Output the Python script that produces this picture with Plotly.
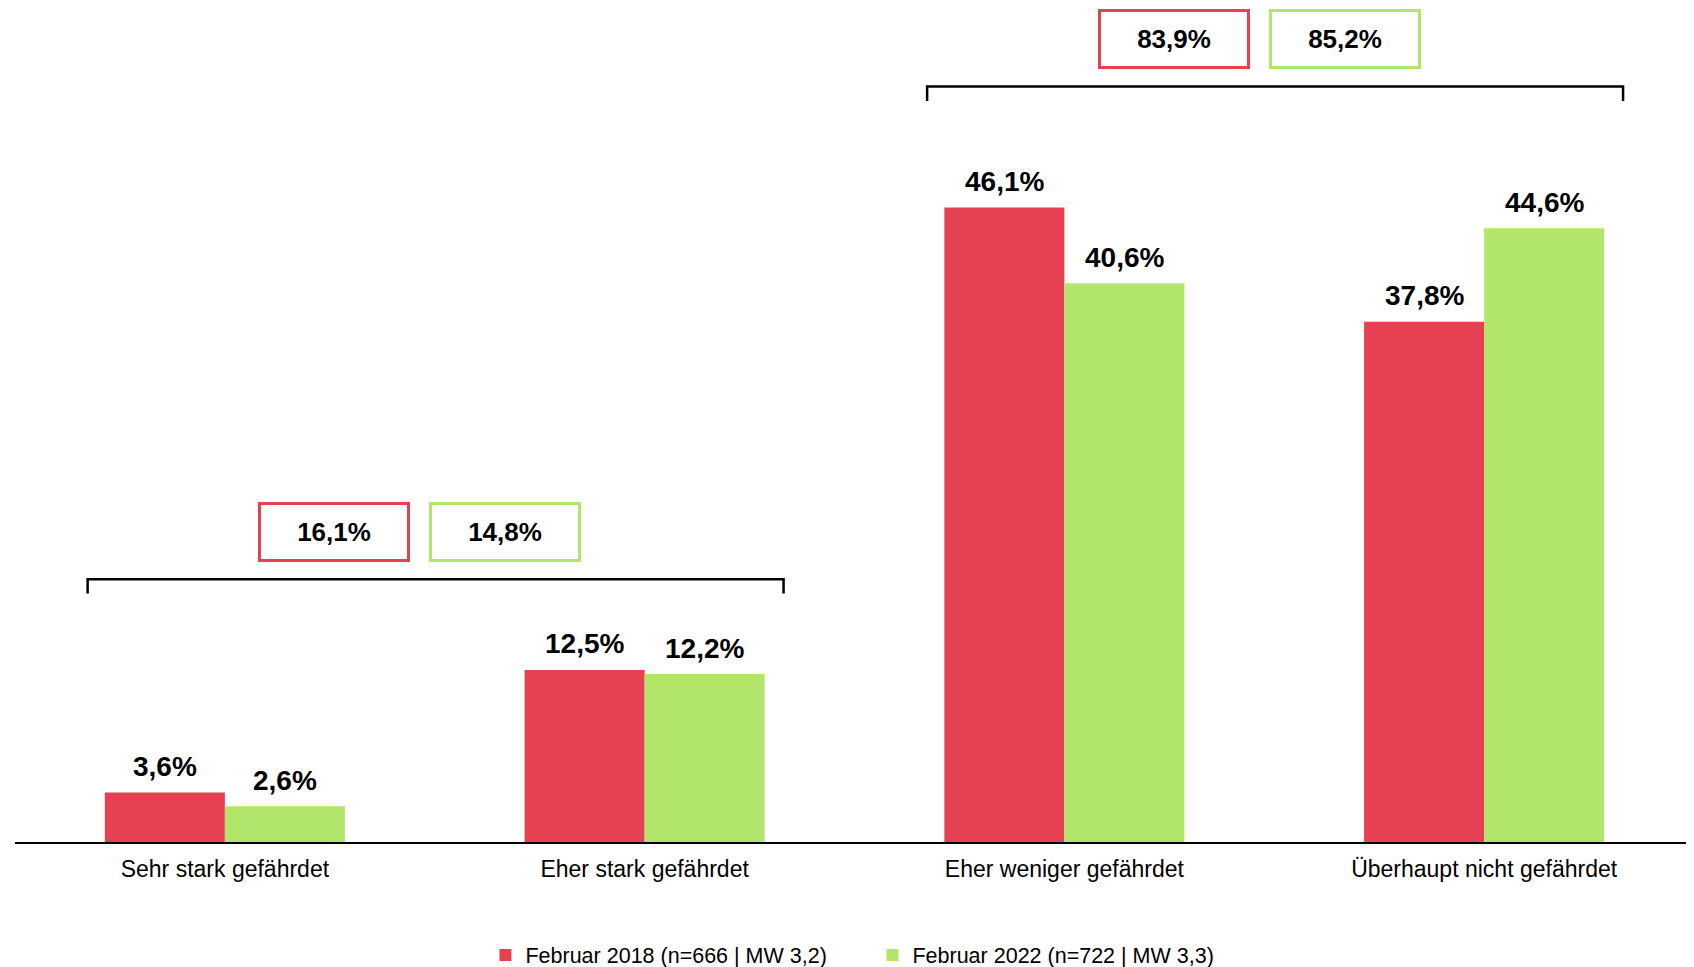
import plotly.graph_objects as go

categories = ["Sehr stark gefährdet", "Eher stark gefährdet", "Eher weniger gefährdet", "Überhaupt nicht gefährdet"]
series_names = ["Februar 2018 (n=666 | MW 3,2)", "Februar 2022 (n=722 | MW 3,3)"]
values_2018 = [3.6, 12.5, 46.1, 37.8]
values_2022 = [2.6, 12.2, 40.6, 44.6]
colors = ["#E64152", "#B2E66A"]

# summary groups: (first category index, last category index)
group_members = [(0, 1), (2, 3)]
summary_2018 = [16.1, 83.9]
summary_2022 = [14.8, 85.2]
bracket_levels = [19.1, 54.9]

FONT = "Liberation Sans, Arial, sans-serif"
BARGAP = 0.428

def fmt(v):
    return f"{v:.1f}".replace(".", ",") + "%"

xs = list(range(len(categories)))
fig = go.Figure()
for name, vals, col in zip(series_names, [values_2018, values_2022], colors):
    fig.add_trace(go.Bar(x=xs, y=vals, name=name, marker=dict(color=col, line=dict(width=0)),
                         hoverinfo="skip"))

annotations = []
shapes = []
bw = (1 - BARGAP) / 2
for s, vals in enumerate([values_2018, values_2022]):
    off = (s - 0.5) * bw
    for i, v in enumerate(vals):
        annotations.append(dict(x=i + off, y=v, xref="x", yref="y", text=f"<b>{fmt(v)}</b>",
                                showarrow=False, yanchor="middle", yshift=26,
                                font=dict(family=FONT, size=28, color="#000000")))

for (a, b), s18, s22, lvl in zip(group_members, summary_2018, summary_2022, bracket_levels):
    x0 = a - 0.327
    x1 = b + 0.331
    tick = lvl - 1.05
    shapes.append(dict(type="path", xref="x", yref="y",
                       path=f"M {x0},{tick} L {x0},{lvl} L {x1},{lvl} L {x1},{tick}",
                       line=dict(color="#000000", width=2.5)))
    cx = (x0 + x1) / 2
    ymid = lvl + 1.22 + 2.2
    for val, col, c in [(s18, colors[0], cx - 0.241), (s22, colors[1], cx + 0.166)]:
        annotations.append(dict(x=c, y=ymid, xref="x", yref="y", text=f"<b>{fmt(val)}</b>",
                                showarrow=False, xanchor="center", yanchor="middle",
                                width=146, height=54, borderpad=0, borderwidth=3, bordercolor=col,
                                font=dict(family=FONT, size=26, color="#000000")))

fig.update_layout(
    width=1686, height=959,
    margin=dict(l=7, r=0, t=0, b=125, autoexpand=False),
    paper_bgcolor="white", plot_bgcolor="white",
    barmode="group", bargap=BARGAP, bargroupgap=0,
    font=dict(family=FONT, size=22, color="#000000"),
    showlegend=True,
    legend=dict(orientation="h", x=0.2802, xanchor="left", y=-0.1354, yanchor="middle",
                font=dict(family=FONT, size=21.5, color="#000000"), entrywidth=342,
                bgcolor="rgba(0,0,0,0)"),
    xaxis=dict(range=[-0.5, 3.5], tickvals=xs, ticktext=categories, showline=True,
               linecolor="#000000", linewidth=1.5, showgrid=False, zeroline=False, ticks="",
               ticklabelstandoff=6, tickfont=dict(family=FONT, size=23, color="#000000"),
               fixedrange=True),
    yaxis=dict(range=[0, 60.6], visible=False, showgrid=False, zeroline=False, fixedrange=True),
    annotations=annotations,
    shapes=shapes,
)

fig.write_html("out.html", config={"displayModeBar": False})
